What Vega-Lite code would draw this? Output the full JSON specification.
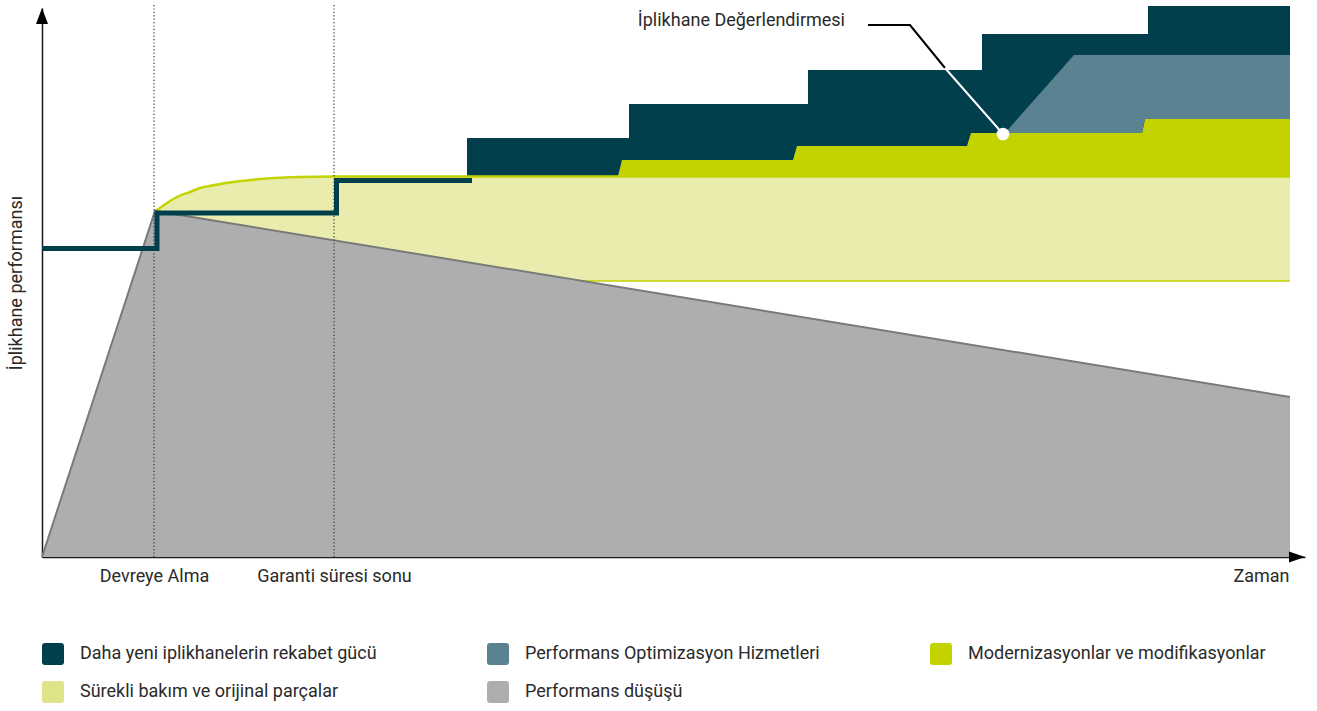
{
  "$schema": "https://vega.github.io/schema/vega-lite/v6.json",
  "width": 1263,
  "height": 549,
  "autosize": {"type": "none"},
  "padding": {"left": 42, "top": 8, "right": 12, "bottom": 154},
  "background": "white",
  "config": {"view": {"stroke": null}, "font": "Roboto"},
  "datasets": {
    "decline": [
      {"t": 0, "p": 0},
      {"t": 113, "p": 346},
      {"t": 1248, "p": 160}
    ],
    "maint": [
      {"t": 113, "p": 346, "p2": 346},
      {"t": 118, "p": 349, "p2": 345.2},
      {"t": 125, "p": 354, "p2": 344},
      {"t": 135, "p": 360, "p2": 342.4},
      {"t": 148, "p": 365, "p2": 340.3},
      {"t": 158, "p": 369, "p2": 338.6},
      {"t": 173, "p": 372, "p2": 336.2},
      {"t": 191, "p": 375, "p2": 333.2},
      {"t": 225, "p": 378.5, "p2": 327.6},
      {"t": 258, "p": 380, "p2": 322.2},
      {"t": 291, "p": 380.5, "p2": 316.8},
      {"t": 358, "p": 380.5, "p2": 305.8},
      {"t": 458, "p": 380.5, "p2": 289.5},
      {"t": 500, "p": 380.5, "p2": 282.6},
      {"t": 540, "p": 380.5, "p2": 276},
      {"t": 1248, "p": 380.5, "p2": 276}
    ],
    "maintBottom": [
      {"t": 540, "p": 276},
      {"t": 1248, "p": 276}
    ],
    "newer": [
      {"t": 425, "p": 419, "p2": 381},
      {"t": 587, "p": 453, "p2": 381},
      {"t": 766, "p": 487, "p2": 381},
      {"t": 940, "p": 523, "p2": 381},
      {"t": 1106, "p": 551, "p2": 381},
      {"t": 1248, "p": 551, "p2": 381}
    ],
    "modern": [
      {"t": 576, "p": 381, "p2": 381},
      {"t": 580, "p": 397, "p2": 381},
      {"t": 751, "p": 397, "p2": 381},
      {"t": 755, "p": 411, "p2": 381},
      {"t": 925, "p": 411, "p2": 381},
      {"t": 929, "p": 424, "p2": 381},
      {"t": 1100, "p": 424, "p2": 381},
      {"t": 1103, "p": 438, "p2": 381},
      {"t": 1248, "p": 438, "p2": 381}
    ],
    "optim": [
      {"t": 963, "p": 424, "p2": 424},
      {"t": 1032, "p": 502, "p2": 424},
      {"t": 1100, "p": 502, "p2": 424},
      {"t": 1103, "p": 502, "p2": 438},
      {"t": 1248, "p": 502, "p2": 438}
    ],
    "milestones": [
      {"t": 112, "p": 552, "p2": 0},
      {"t": 292, "p": 552, "p2": 0}
    ],
    "mill": [
      {"t": 0, "p": 308.5},
      {"t": 115, "p": 344},
      {"t": 294.5, "p": 376.5},
      {"t": 430, "p": 376.5}
    ],
    "arrowX": [{"t": 1255, "p": 0}],
    "arrowY": [{"t": 0, "p": 541}],
    "leaderBlack": [
      {"t": 826, "p": 532},
      {"t": 868, "p": 532},
      {"t": 903, "p": 489}
    ],
    "leaderWhite": [
      {"t": 903, "p": 489},
      {"t": 961, "p": 423}
    ],
    "marker": [{"t": 961, "p": 423}],
    "note": [{"t": 803, "p": 536, "label": "İplikhane Değerlendirmesi"}]
  },
  "encoding": {
    "x": {
      "field": "t", "type": "quantitative",
      "scale": {"domain": [0, 1263], "nice": false, "zero": false},
      "axis": {
        "values": [112, 292, 1219],
        "labelExpr": "datum.value == 112 ? 'Devreye Alma' : datum.value == 292 ? 'Garanti süresi sonu' : 'Zaman'",
        "ticks": false, "grid": false, "title": null,
        "domainColor": "#1a1a1a", "domainWidth": 1.5,
        "labelFont": "Roboto", "labelFontSize": 18, "labelColor": "#2a2a2a",
        "labelPadding": 10, "labelFlush": false, "labelOverlap": false
      }
    },
    "y": {
      "field": "p", "type": "quantitative",
      "scale": {"domain": [0, 549], "nice": false, "zero": false},
      "axis": {
        "labels": false, "ticks": false, "grid": false,
        "domainColor": "#1a1a1a", "domainWidth": 1.5,
        "title": "İplikhane performansı",
        "titleFont": "Roboto", "titleFontSize": 18, "titleFontWeight": "normal",
        "titleColor": "#2a2a2a", "titlePadding": 17
      }
    }
  },
  "layer": [
    {
      "data": {"name": "decline"},
      "mark": {"type": "area", "opacity": 1},
      "encoding": {
        "y2": {"datum": 0},
        "color": {
          "datum": "Performans düşüşü", "type": "nominal",
          "scale": {
            "domain": ["Daha yeni iplikhanelerin rekabet gücü", "Sürekli bakım ve orijinal parçalar", "Performans Optimizasyon Hizmetleri", "Performans düşüşü", "Modernizasyonlar ve modifikasyonlar"],
            "range": ["#023f4c", "#dfe48a", "#5b8291", "#adaeae", "#c2d300"]
          },
          "legend": {
            "title": null, "orient": "none", "legendX": 0, "legendY": 635,
            "columns": 3, "columnPadding": 110, "rowPadding": 16, "padding": 0,
            "symbolType": "M-1,-0.75A0.25,0.25 0 0 1 -0.75,-1L0.75,-1A0.25,0.25 0 0 1 1,-0.75L1,0.75A0.25,0.25 0 0 1 0.75,1L-0.75,1A0.25,0.25 0 0 1 -1,0.75Z",
            "symbolSize": 484, "symbolStrokeWidth": 0, "symbolOpacity": 1,
            "labelFont": "Roboto", "labelFontSize": 18, "labelColor": "#2a2a2a",
            "labelOffset": 16, "labelLimit": 500
          }
        }
      }
    },
    {
      "data": {"name": "maint"},
      "mark": {"type": "area", "interpolate": "monotone", "fillOpacity": 0.7},
      "encoding": {
        "y2": {"field": "p2"},
        "color": {"datum": "Sürekli bakım ve orijinal parçalar", "type": "nominal"}
      }
    },
    {
      "data": {"name": "newer"},
      "mark": {"type": "area", "interpolate": "step-after", "opacity": 1},
      "encoding": {
        "y2": {"field": "p2"},
        "color": {"datum": "Daha yeni iplikhanelerin rekabet gücü", "type": "nominal"}
      }
    },
    {
      "data": {"name": "modern"},
      "mark": {"type": "area", "opacity": 1},
      "encoding": {
        "y2": {"field": "p2"},
        "color": {"datum": "Modernizasyonlar ve modifikasyonlar", "type": "nominal"}
      }
    },
    {
      "data": {"name": "optim"},
      "mark": {"type": "area", "opacity": 1},
      "encoding": {
        "y2": {"field": "p2"},
        "color": {"datum": "Performans Optimizasyon Hizmetleri", "type": "nominal"}
      }
    },
    {
      "data": {"name": "maint"},
      "mark": {"type": "line", "interpolate": "monotone", "color": "#c2d300", "strokeWidth": 2.5},
      "encoding": {}
    },
    {
      "data": {"name": "maintBottom"},
      "mark": {"type": "line", "color": "#c2d300", "strokeWidth": 1.5},
      "encoding": {}
    },
    {
      "data": {"name": "decline"},
      "mark": {"type": "line", "color": "#7a7a7a", "strokeWidth": 2},
      "encoding": {}
    },
    {
      "data": {"name": "milestones"},
      "mark": {"type": "rule", "color": "#333333", "strokeWidth": 1.2, "strokeDash": [1.2, 2.2]},
      "encoding": {"y2": {"field": "p2"}}
    },
    {
      "data": {"name": "mill"},
      "mark": {"type": "line", "interpolate": "step-after", "color": "#023f4c", "strokeWidth": 5, "strokeJoin": "miter", "strokeCap": "butt"},
      "encoding": {}
    },
    {
      "data": {"name": "arrowX"},
      "mark": {"type": "point", "shape": "M-1,-0.69L1,0L-1,0.69Z", "size": 256, "filled": true, "color": "#000000", "opacity": 1, "strokeWidth": 0},
      "encoding": {}
    },
    {
      "data": {"name": "arrowY"},
      "mark": {"type": "point", "shape": "M-0.75,1L0,-1L0.75,1Z", "size": 256, "filled": true, "color": "#000000", "opacity": 1, "strokeWidth": 0},
      "encoding": {}
    },
    {
      "data": {"name": "leaderBlack"},
      "mark": {"type": "line", "color": "#000000", "strokeWidth": 2},
      "encoding": {}
    },
    {
      "data": {"name": "leaderWhite"},
      "mark": {"type": "line", "color": "#ffffff", "strokeWidth": 2},
      "encoding": {}
    },
    {
      "data": {"name": "marker"},
      "mark": {"type": "point", "shape": "circle", "size": 160, "filled": true, "color": "#ffffff", "opacity": 1, "strokeWidth": 0},
      "encoding": {}
    },
    {
      "data": {"name": "note"},
      "mark": {"type": "text", "align": "right", "baseline": "middle", "font": "Roboto", "fontSize": 18, "color": "#2a2a2a"},
      "encoding": {"text": {"field": "label"}}
    }
  ]
}
